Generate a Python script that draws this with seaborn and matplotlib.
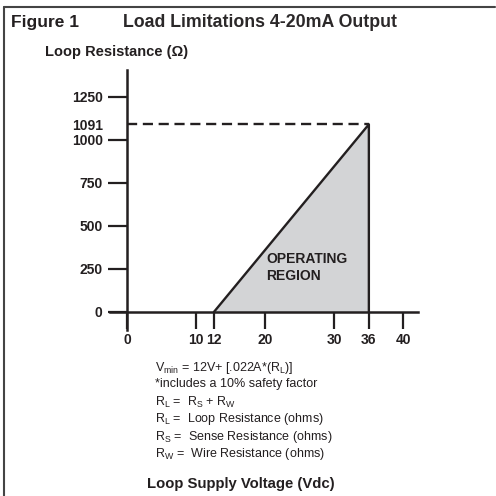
import matplotlib
matplotlib.use('Agg')
import matplotlib.pyplot as plt
import seaborn as sns
import pandas as pd
import numpy as np

# boundary of the operating region (supply voltage vs loop resistance)
region_v = [12, 36, 36]
region_r = [0, 1091, 0]
max_r = 1091
x_ticks = [0, 10, 12, 20, 30, 36, 40]
y_ticks = [0, 250, 500, 750, 1000, 1250]

notes = [
    r'$\mathregular{V_{min}}$ = 12V+ [.022A*($\mathregular{R_L}$)]',
    '*includes a 10% safety factor',
    r'$\mathregular{R_L}$ =  $\mathregular{R_S}$ + $\mathregular{R_W}$',
    r'$\mathregular{R_L}$ =  Loop Resistance (ohms)',
    r'$\mathregular{R_S}$ =  Sense Resistance (ohms)',
    r'$\mathregular{R_W}$ =  Wire Resistance (ohms)',
]

sns.set_style('white')
plt.rcParams['font.family'] = ['Liberation Sans', 'DejaVu Sans']
ink = '#231f20'

W = H = 496
fig = plt.figure(figsize=(4.96, 4.96), dpi=100)

# axes placed so that data maps onto the reference pixels
xlim = (-2.5, 42.2)
ylim = (-105, 1407)
left, right = 109.75, 418.2
top, bottom = 70, 330
ax = fig.add_axes([left / W, 1 - bottom / H, (right - left) / W, (bottom - top) / H])

# the original drawing is schematic: 12 and 36 sit slightly off a linear scale
knots = [-100, 0, 10, 12, 20, 30, 36, 40, 100]
drawn = [-100, 0, 10, 12.6, 20, 30, 35.05, 40, 100]
ax.set_xscale('function', functions=(lambda v: np.interp(v, knots, drawn),
                                     lambda v: np.interp(v, drawn, knots)))
ax.set_xlim(*xlim)
ax.set_ylim(*ylim)

df = pd.DataFrame({'v': region_v, 'r': region_r})
ax.fill_between([region_v[0], region_v[1]], [region_r[0], region_r[1]], 0,
                color='#d3d4d6', lw=0, zorder=1)
sns.lineplot(data=df, x='v', y='r', sort=False, color=ink, lw=1.7, ax=ax,
             zorder=3, estimator=None)
sns.lineplot(x=[0, region_v[1]], y=[max_r, max_r], color=ink, lw=1.7,
             ax=ax, zorder=2, estimator=None)
ax.lines[-1].set_dashes([4.3, 2.4])

ax.text(20.2, 258, 'OPERATING\nREGION', fontsize=10, fontweight='bold',
        ha='left', va='center', linespacing=1.2, color=ink)

for s in ['top', 'right']:
    ax.spines[s].set_visible(False)
ax.spines['left'].set_position(('data', 0))
ax.spines['bottom'].set_position(('data', 0))
for s in ['left', 'bottom']:
    ax.spines[s].set_linewidth(1.8)
    ax.spines[s].set_color(ink)

ax.set_xticks(x_ticks)
ax.set_xticklabels([str(t) for t in x_ticks])
ax.set_xticks([], minor=True)
ax.set_yticks(y_ticks)
ax.set_yticklabels([str(t) for t in y_ticks])
ax.set_yticks([max_r], minor=True)
ax.set_yticklabels([str(max_r)], minor=True)
ax.tick_params(axis='x', direction='out', length=12.5, width=1.6, pad=3,
               color=ink, labelsize=10, bottom=True)
ax.tick_params(axis='y', which='major', direction='out', length=14, width=1.6,
               pad=3.5, color=ink, labelsize=10, left=True)
ax.tick_params(axis='y', which='minor', length=0, pad=17.5, labelsize=10, left=True)
for lab in ax.get_xticklabels() + ax.get_yticklabels() + ax.get_yticklabels(minor=True):
    lab.set_fontweight('bold')
    lab.set_color(ink)
ax.set_xlabel('')
ax.set_ylabel('')
ax.patch.set_alpha(0)

# page texts
fig.text(11 / W, 1 - 27 / H, 'Figure 1', fontsize=12.5, fontweight='bold',
         va='baseline', color=ink)
fig.text(123 / W, 1 - 27 / H, 'Load Limitations 4-20mA Output', fontsize=12.8,
         fontweight='bold', va='baseline', color='#2b2829')
fig.text(45 / W, 1 - 52 / H, 'Loop Resistance (Ω)', fontsize=10.5,
         fontweight='bold', va='center', color=ink)
note_y = [368, 384, 402, 419, 437, 454]
for yy, t in zip(note_y, notes):
    fig.text(155 / W, 1 - yy / H, t, fontsize=9, va='center', color=ink)
fig.text(147 / W, 1 - 484 / H, 'Loop Supply Voltage (Vdc)', fontsize=10.7,
         fontweight='bold', va='center', color=ink)

# frame on top and left edges
fig.add_artist(plt.Line2D([4 / W, 4 / W], [0, 1 - 7 / H], transform=fig.transFigure,
                          color='#444444', lw=1.5))
fig.add_artist(plt.Line2D([4 / W, 495 / W], [1 - 7 / H, 1 - 7 / H],
                          transform=fig.transFigure, color='#444444', lw=1.5))

fig.savefig('out.png', dpi=100)
